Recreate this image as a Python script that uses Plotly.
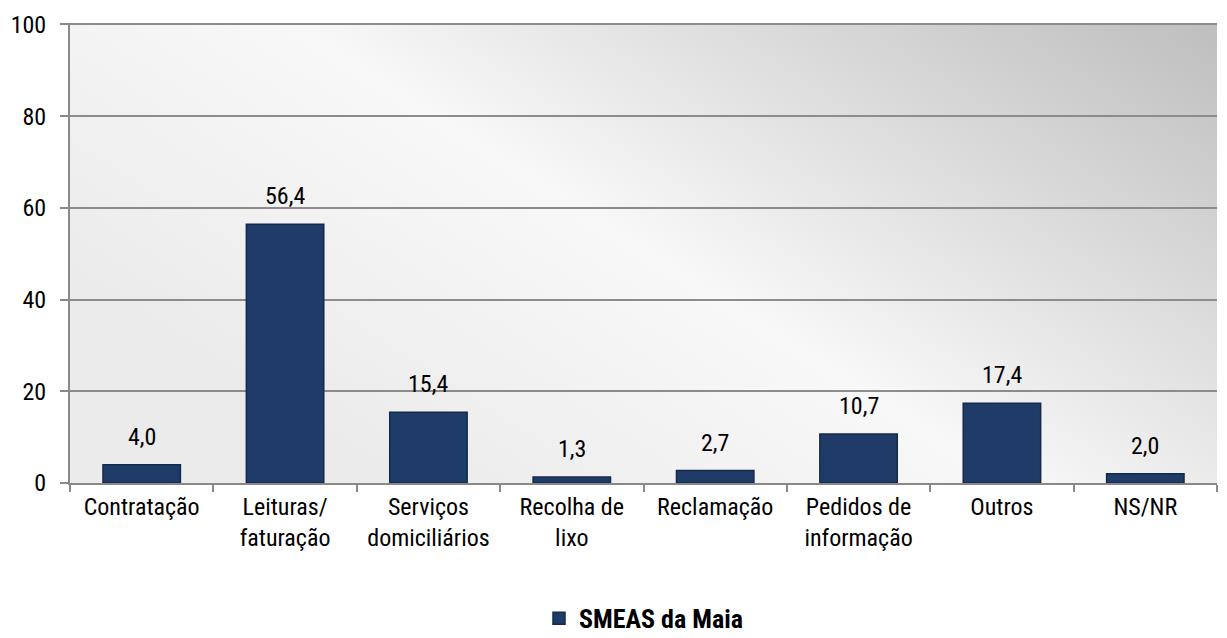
import base64
import plotly.graph_objects as go

categories = ["Contratação", "Leituras/<br>faturação", "Serviços<br>domiciliários", "Recolha de<br>lixo",
              "Reclamação", "Pedidos de<br>informação", "Outros", "NS/NR"]
values = [4.0, 56.4, 15.4, 1.3, 2.7, 10.7, 17.4, 2.0]
series_name = "SMEAS da Maia"
y_ticks = [0, 20, 40, 60, 80, 100]

FONT = "Liberation Sans Narrow, Arial Narrow, Roboto Condensed, Liberation Sans, Arial, sans-serif"
FS = 24

svg = ("<svg xmlns='http://www.w3.org/2000/svg' width='1147' height='459' viewBox='0 0 1147 459' preserveAspectRatio='none'>"
       "<defs><linearGradient id='g' gradientUnits='userSpaceOnUse' x1='1147' y1='0' x2='700' y2='700'>"
       "<stop offset='0' stop-color='#bebebe'/><stop offset='0.6' stop-color='#f8f8f8'/>"
       "<stop offset='1' stop-color='#ebebeb'/></linearGradient></defs>"
       "<rect width='1147' height='459' fill='url(#g)'/></svg>")
src = "data:image/svg+xml;base64," + base64.b64encode(svg.encode()).decode()

fig = go.Figure()
fig.add_trace(go.Bar(
    x=categories, y=values, name=series_name,
    marker=dict(color="#1f3c69", line=dict(color="#142a4c", width=1.5)),
    width=0.54,
    showlegend=True,
))

annotations = [
    dict(x=c, y=v, text=f"{v:.1f}".replace(".", ","), showarrow=False,
         xref="x", yref="y", yanchor="bottom", yshift=12,
         font=dict(family=FONT, size=FS, color="#000000"))
    for c, v in zip(categories, values)
]

fig.update_layout(
    width=1227, height=638,
    margin=dict(l=70, r=10, t=23, b=155, autoexpand=False),
    paper_bgcolor="white", plot_bgcolor="#f0f0f0",
    separators=",.",
    font=dict(family=FONT, size=FS, color="#000000"),
    images=[dict(source=src, xref="paper", yref="paper", x=0, y=1, sizex=1, sizey=1,
                 xanchor="left", yanchor="top", sizing="stretch", layer="below")],
    annotations=annotations,
    legend=dict(orientation="h", x=0.5, xanchor="center", y=-0.294, yanchor="middle",
                font=dict(family=FONT, size=26, color="#000000", weight="bold"),
                itemwidth=30),
)
fig.update_xaxes(
    showline=True, linecolor="#898989", linewidth=2,
    ticks="outside", tickson="boundaries", ticklen=7, tickcolor="#898989", tickwidth=1.5,
    showgrid=False, tickfont=dict(family=FONT, size=FS), ticklabelstandoff=1,
)
fig.update_yaxes(
    range=[0, 100.3], tickvals=y_ticks,
    showline=True, linecolor="#898989", linewidth=2,
    ticks="outside", ticklen=8, tickcolor="#898989", tickwidth=1.5,
    showgrid=True, gridcolor="#8c8c8c", gridwidth=2,
    zeroline=False, tickfont=dict(family=FONT, size=FS), ticklabelstandoff=9,
)

fig.write_html("out.html", config={"displayModeBar": False},
               post_script="document.body.style.margin='0';")
